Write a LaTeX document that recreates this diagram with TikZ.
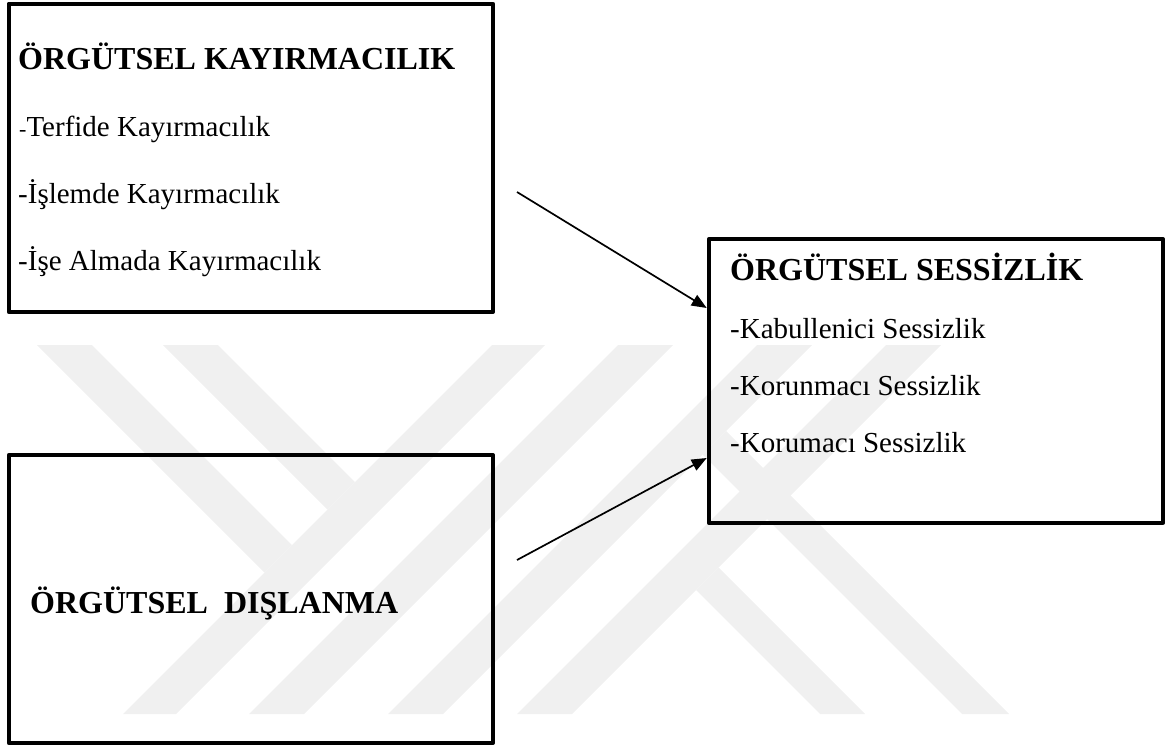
\documentclass[tikz,border=0pt]{standalone}
\usepackage{fontspec}
\setmainfont{Liberation Serif}
\usetikzlibrary{arrows.meta}
\definecolor{wmark}{RGB}{240,240,240}
\begin{document}
\begin{tikzpicture}[x=1pt,y=-1pt,
  box/.style={draw, line width=4pt, line join=round, inner sep=0pt, anchor=north west},
  head/.style={anchor=base west, inner sep=0pt, font=\fontsize{32}{38}\selectfont\bfseries},
  item/.style={anchor=base west, inner sep=0pt, font=\fontsize{29}{35}\selectfont},
  link/.style={line width=1.7pt, -{Triangle[length=15pt,width=12pt]}},
  band/.style={fill=wmark, draw=none}]
\useasboundingbox (0,0) rectangle (1165,747);

% faint striped emblem in the background
\fill[band] (37,345) -- (92,345) -- (292,545) -- (264.5,572.5) -- cycle;
\fill[band] (163,345) -- (218,345) -- (355,482) -- (327.5,509.5) -- cycle;
\fill[band] (492,345) -- (545,345) -- (176,714) -- (123,714) -- cycle;
\fill[band] (618,345) -- (673,345) -- (304,714) -- (249,714) -- cycle;
\fill[band] (757,345) -- (812,345) -- (443,714) -- (388,714) -- cycle;
\fill[band] (886,345) -- (941,345) -- (572,714) -- (517,714) -- cycle;
\fill[band] (718.5,567.5) -- (696,590) -- (820,714) -- (865,714) -- cycle;
\fill[band] (726,431) -- (702.5,454.5) -- (962,714) -- (1009,714) -- cycle;

% boxes
\node[box, minimum width=484.3pt, minimum height=308.3pt] (b1) at (6.7,1.7) {};
\node[box, minimum width=484.3pt, minimum height=288pt] (b2) at (6.7,453) {};
\node[box, minimum width=454.3pt, minimum height=283.4pt] (b3) at (706.7,237.3) {};

% texts of the first box
\node[head] (h1) at (18,69) {ÖRGÜTSEL KAYIRMACILIK};
\node[item] (i11) at (19,136.7) {{\fontsize{22}{26}\selectfont -}Terfide Kayırmacılık};
\node[item] (i12) at (18,203.3) {-İşlemde Kayırmacılık};
\node[item] (i13) at (18,270) {-İşe Almada Kayırmacılık};

% text of the second box
\node[head] (h2) at (30,613.3) {ÖRGÜTSEL\ \ DIŞLANMA};

% texts of the third box
\node[head] (h3) at (730,280) {ÖRGÜTSEL SESSİZLİK};
\node[item] (i31) at (730,338.3) {-Kabullenici Sessizlik};
\node[item] (i32) at (730,395.7) {-Korunmacı Sessizlik};
\node[item] (i33) at (730,452.7) {-Korumacı Sessizlik};

% connectors
\coordinate (s1) at (517,192);
\coordinate (s2) at (517,560);
\draw[link] (s1) -- ([yshift=73pt]b3.west);
\draw[link] (s2) -- ([yshift=-77pt]b3.west);
\end{tikzpicture}
\end{document}
